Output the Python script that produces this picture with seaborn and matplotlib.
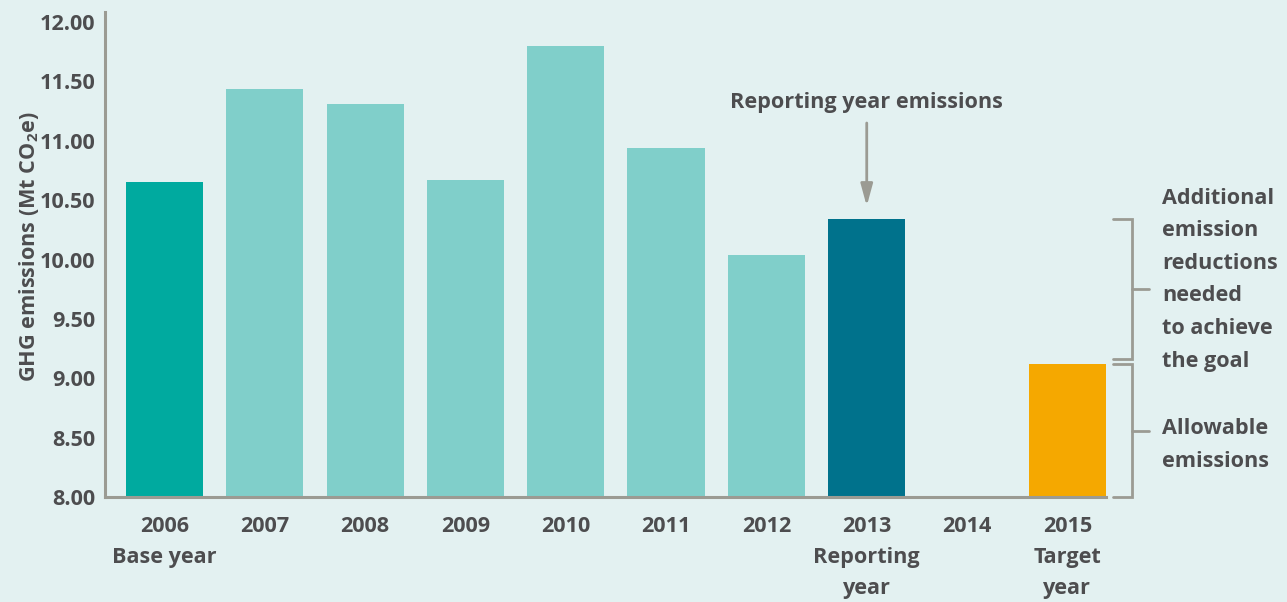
import numpy as np
import pandas as pd
import matplotlib
matplotlib.use("Agg")
import matplotlib.pyplot as plt
import matplotlib.transforms as mtransforms
import seaborn as sns

# ---- data ----
years = ["2006", "2007", "2008", "2009", "2010", "2011", "2012", "2013", "2014", "2015"]
year_notes = ["Base year", "", "", "", "", "", "", "Reporting\nyear", "", "Target\nyear"]
emissions = [10.65, 11.44, 11.31, 10.67, 11.80, 10.94, 10.04, 10.34, np.nan, 9.12]
bar_colors = ["#00AA9F", "#80CFCA", "#80CFCA", "#80CFCA", "#80CFCA", "#80CFCA",
              "#80CFCA", "#00728C", "#80CFCA", "#F5A800"]
y_ticks = [8.0, 8.5, 9.0, 9.5, 10.0, 10.5, 11.0, 11.5, 12.0]

BG = "#E3F1F1"
TXT = "#4D4D4F"
GREY = "#9B9B93"

sns.set_theme(style="white")
FONT = "Open Sans"
plt.rcParams["font.family"] = [FONT, "DejaVu Sans"]
plt.rcParams["font.weight"] = "bold"
plt.rcParams["mathtext.fontset"] = "custom"
plt.rcParams["mathtext.rm"] = FONT + ":bold"
plt.rcParams["mathtext.it"] = FONT + ":bold"
plt.rcParams["mathtext.bf"] = FONT + ":bold"
FS = 15.6
LS = 1.72

df = pd.DataFrame({"year": years, "value": emissions})

fig = plt.figure(figsize=(12.87, 6.02), dpi=100, facecolor=BG)
ax = fig.add_axes([105 / 1287, 1 - 497 / 602, 1001 / 1287, 485 / 602])
ax.set_facecolor(BG)

sns.barplot(data=df, x="year", y="value", hue="year", order=years,
            palette=dict(zip(years, bar_colors)), width=0.77, legend=False,
            saturation=1, linewidth=0, ax=ax)

ax.set_ylim(8.0, 12.085)
ax.set_xlim(-0.593, 9.385)
ax.set_yticks(y_ticks)
ax.set_yticklabels([f"{v:.2f}" for v in y_ticks], fontsize=FS, color=TXT, fontweight="bold")
ax.set_xticks(range(len(years)))
ax.set_xticklabels([y + ("\n" + n if n else "") for y, n in zip(years, year_notes)],
                   fontsize=FS, color=TXT, fontweight="bold", linespacing=1.62, va="top")
ax.tick_params(axis="both", length=0)
ax.tick_params(axis="x", pad=14)
ax.tick_params(axis="y", pad=7)
ax.set_xlabel("")
ax.set_ylabel("")

for s in ["top", "right"]:
    ax.spines[s].set_visible(False)
for s in ["left", "bottom"]:
    ax.spines[s].set_color(GREY)
    ax.spines[s].set_linewidth(2.2)

fig.text(29 / 1287, 1 - 247 / 602, "GHG emissions (Mt CO$_2$e)", rotation=90,
         ha="center", va="center", fontsize=FS, color=TXT, fontweight="bold")

# reporting year annotation
rep_i = 7
rep_v = emissions[rep_i]
ax.annotate("", xy=(rep_i, rep_v + 0.11), xytext=(rep_i, rep_v + 0.81),
            arrowprops=dict(arrowstyle="-|>,head_length=1.1,head_width=0.3",
                            color=GREY, lw=2.0, shrinkA=0, shrinkB=0))
ax.text(rep_i, rep_v + 0.98, "Reporting year emissions", ha="center", va="center",
        fontsize=FS, color=TXT, fontweight="bold")

# brackets on the right
tgt_v = emissions[9]
trans = mtransforms.blended_transform_factory(ax.transAxes, ax.transData)
x0, x1, x2 = 1.007, 1.026, 1.043

def bracket(lo, hi):
    ax.plot([x0, x1, x1, x0], [hi, hi, lo, lo], color=GREY, lw=2.0,
            transform=trans, clip_on=False, solid_joinstyle="miter")
    mid = (lo + hi) / 2
    ax.plot([x1, x2], [mid, mid], color=GREY, lw=2.0, transform=trans, clip_on=False)
    return mid

m1 = bracket(tgt_v + 0.04, rep_v)
m2 = bracket(8.0, tgt_v)
ax.text(1.056, m1 + 0.08, "Additional\nemission\nreductions\nneeded\nto achieve\nthe goal",
        transform=trans, ha="left", va="center", fontsize=FS, color=TXT,
        fontweight="bold", linespacing=LS)
ax.text(1.056, m2 - 0.12, "Allowable\nemissions", transform=trans, ha="left", va="center",
        fontsize=FS, color=TXT, fontweight="bold", linespacing=LS)

fig.savefig("out.png", dpi=100, facecolor=BG)
